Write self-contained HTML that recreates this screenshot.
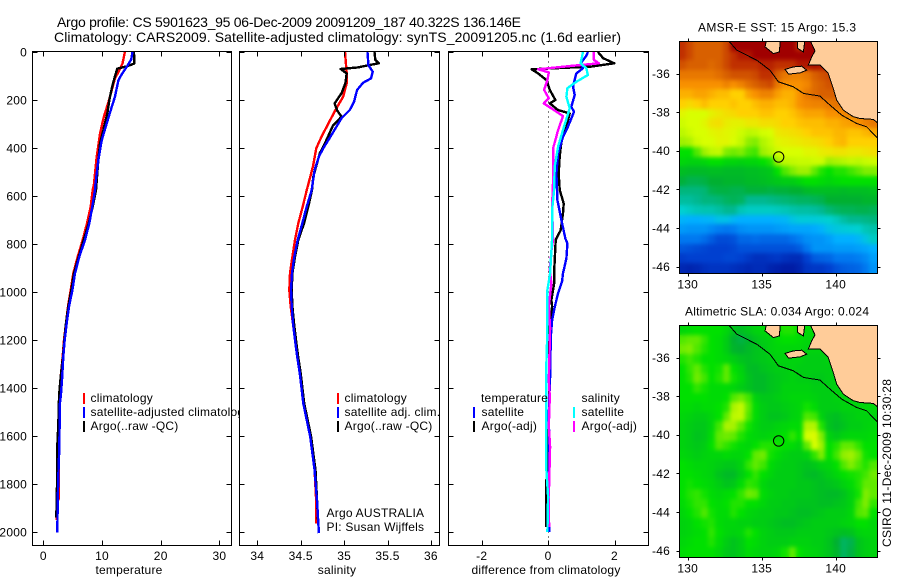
<!DOCTYPE html>
<html>
<head>
<meta charset="utf-8">
<title>Argo profile</title>
<style>
html,body{margin:0;padding:0;background:#fff;width:900px;height:580px;overflow:hidden}
svg{display:block}
text{font-family:"Liberation Sans",Arial,sans-serif;fill:#000;font-size:12px;letter-spacing:.22px}
text[textLength]{letter-spacing:0}
</style>
</head>
<body>
<svg id="fig" width="900" height="580" viewBox="0 0 900 580" xmlns="http://www.w3.org/2000/svg">
<defs>
<clipPath id="map-clip-1"><rect x="679.5" y="41.5" width="198" height="232"/></clipPath>
<clipPath id="map-clip-2"><rect x="679.5" y="325.5" width="198" height="232"/></clipPath>
<filter id="map-smooth" x="-5%" y="-5%" width="110%" height="110%" color-interpolation-filters="sRGB"><feGaussianBlur stdDeviation="2"/></filter>
</defs>
<rect width="900" height="580" fill="#fff"/>
<text x="57" y="27" style="font-size:14px" textLength="464" lengthAdjust="spacing">Argo profile: CS 5901623_95 06-Dec-2009 20091209_187 40.322S 136.146E</text>
<text x="54" y="42" style="font-size:14px" textLength="567" lengthAdjust="spacing">Climatology: CARS2009. Satellite-adjusted climatology: synTS_20091205.nc (1.6d earlier)</text>
<text x="698" y="31.5" textLength="158" lengthAdjust="spacing">AMSR-E SST: 15 Argo: 15.3</text>
<text x="685" y="315.5" textLength="184" lengthAdjust="spacing">Altimetric SLA: 0.034 Argo: 0.024</text>
<text transform="translate(891,547) rotate(-90)" textLength="168" lengthAdjust="spacing">CSIRO 11-Dec-2009 10:30:28</text>
</svg>
<script>
// ---------- profile data (depth in dbar) ----------
const tempClimDepth = [0,48,83,111,160,208,271,340,437,549,575,644,714,783,853,922,992,1061,1130,1200,1269,1353,1464,1600,1770,1860,1880,1950];
const tempClim = [13.9,13.5,12.8,12.2,11.65,11.1,10.3,9.66,9.1,8.63,8.41,8.07,7.44,6.71,5.86,5.11,4.67,4.2,3.87,3.53,3.3,2.96,2.8,2.65,2.6,2.65,2.28,2.28];
const tempSatDepth = [0,30,62,93,118,187,229,298,368,451,549,575,644,714,783,853,922,992,1061,1130,1200,1269,1367,1430,1464,1652,1770,1881,2003];
const tempSat = [15.2,15,14.2,13.35,12.8,12.2,11.65,10.8,9.95,9.37,8.9,8.81,8.35,7.84,7.1,6.14,5.4,4.95,4.38,3.98,3.64,3.41,3.19,3,2.83,2.73,2.56,2.45,2.39];
const tempArgoDepth = [0,48,60,69,111,153,201,257,298,382,451,575,644,714,783,853,922,992,1061,1130,1200,1269,1353,1430,1555,1640,1750,1940];
const tempArgo = [15.45,15.5,14.2,12.6,12.1,11.65,11.25,10.9,10.5,9.66,9.37,8.98,8.41,7.73,6.88,6.03,5.23,4.77,4.26,3.87,3.58,3.36,2.96,2.7,2.56,2.39,2.39,2.22];

const salClimDepth = [0,89,130,186,242,297,353,401,478,575,644,714,783,853,922,992,1061,1130,1200,1269,1339,1464,1603,1742,1881,1965];
const salClim = [35.01,35.03,35.03,34.99,34.9,34.82,34.74,34.68,34.64,34.57,34.523,34.472,34.434,34.404,34.377,34.369,34.385,34.41,34.434,34.46,34.49,34.54,34.61,34.66,34.68,34.68];
const salSatDepth = [0,54,82,110,128,158,207,242,276,346,401,436,492,575,644,714,783,853,922,992,1061,1130,1200,1269,1339,1464,1603,1742,1881,2005];
const salSat = [35.27,35.28,35.33,35.31,35.22,35.15,35.115,35.065,34.97,34.855,34.76,34.71,34.66,34.627,34.569,34.519,34.465,34.426,34.4,34.388,34.396,34.411,34.434,34.46,34.49,34.53,34.61,34.66,34.69,34.71];
const salArgoDepth = [0,33,47,54,64,71,89,130,172,214,244,269,308,380,422,519,575,644,714,783,853,922,992,1061,1130,1200,1269,1339,1464,1603,1742,1881,1960];
const salArgo = [35.35,35.36,35.4,35.295,35.16,34.96,35.03,35.015,34.97,34.89,34.92,34.97,34.87,34.78,34.72,34.645,34.63,34.587,34.538,34.472,34.434,34.404,34.396,34.404,34.423,34.446,34.47,34.5,34.54,34.62,34.67,34.69,34.7];

const diffTempSatDepth = [0,14,47,68,89,144,179,228,249,311,353,422,506,617,700,778,797,860,922,957,1005,1063,1118,1186,1353,1464,1520,1644,1783,2000];
const diffTempSat = [1.2,1.16,0.98,1.05,0.85,0.75,0.8,0.7,0.78,0.6,0.45,0.3,0.25,0.28,0.4,0.52,0.58,0.55,0.45,0.42,0.3,0.2,0.12,0.08,0.06,0.03,0.02,0.04,0.02,0.03];
const diffTempArgoDepth = [0,26,47,61,72,89,117,158,200,214,242,256,311,353,436,506,575,631,672,742,783,867,922,964,1033,1060,1144,1400,1700,1783,1980];
const diffTempArgo = [1.5,1.66,1.99,1.3,-0.5,-0.3,-0.05,0.05,0.22,0.05,0.3,0.65,0.55,0.42,0.35,0.32,0.35,0.47,0.45,0.38,0.23,0.2,0.18,0.18,0.1,0.12,0.04,0.03,0.02,-0.05,-0.05];
const diffSalSatDepth = [0,47,68,96,124,151,186,235,325,394,478,575,658,778,922,992,1158,1297,1742,1853,2000];
const diffSalSat = [1.05,0.98,1.15,1.2,0.85,0.58,0.55,0.65,0.45,0.3,0.2,0.18,0.12,0.12,0.06,-0.02,-0.02,-0.05,-0.05,0,-0.02];
const diffSalArgoDepth = [0,33,47,58,72,85,117,158,193,214,235,267,325,367,401,478,533,644,778,830,908,964,1060,1150,1367,1436,1560,1644,1853,1980];
const diffSalArgo = [1.38,1.38,1.53,0.7,-0.3,0.02,-0.02,-0.12,0.02,-0.13,0.1,0.45,0.3,0.22,0.15,0.15,0.15,0.12,0.15,0.1,0.05,0.1,0.02,0.06,0.02,0.05,0.02,0.06,0.02,0.03];

// ---------- tick labels ----------
const depthTicks = [0,200,400,600,800,1000,1200,1400,1600,1800,2000];
const tempTicks = [0,10,20,30];
const salTicks = [34,34.5,35,35.5,36];
const diffTicks = [-2,0,2];
const lonTicks = [130,135,140];
const latTicks = [-36,-38,-40,-42,-44,-46];

// ---------- map data: colour-scale index, 0.5 degree cells, north to south ----------
const sstGrid = [
[13,12.5,12,12,12,12,12.5,14,14,14,14,14,14,14,14,14,13,14,14,14,14,14,14,14,14,14,14],
[13,12.5,12,12,12,12,12.5,13,13.5,13.5,14,14,14,14,14,14,14,14,14,14,14,14,14,14,14,14,14],
[12.3,12,12,12,11.8,12,12.5,13,13,13,13,13.3,13.3,13,13,13,13.5,13.5,13.7,13.5,13.5,14,14,14,14,14,14],
[11.5,11.5,11.5,11.5,11.5,11.7,12,12.3,12.3,12.3,12.5,13,13,12,11.5,11.3,11.3,11.5,12,12.3,12.5,13,13,13,13,13,13],
[11,11,11,11,11,11,11.3,11,11.3,11.7,12,12.3,12.5,11.5,11,11,11,11.2,11.8,12,12.3,12,12,12,12,12,12],
[10.5,10.5,10.7,10.7,10.5,10.3,10.3,10,10,10.7,11,11.3,11.3,10.8,10.5,10.5,11,11.5,11.8,12,12,12,12,12,12,12,12],
[10,9.8,10,10.3,10,10,10,10.2,10,10,10.3,10.5,10.5,10.3,10.3,10.5,11,11.2,11.3,11.3,11.5,11.6,11.6,11.6,12,12,12],
[9.2,9,9,9,9.3,9.5,9.7,9.8,10,10,10,10.2,10.2,10,10,10.2,10.5,10.7,10.7,10.7,11,11,11.2,11.3,11.5,11.5,11.5],
[8.8,9,9,9.2,9.6,9.7,9.4,9.3,9.3,9.5,9.5,9.7,9.7,9.8,10,10,10.2,10.3,10.3,10.3,10.5,10.5,10.7,10.8,11,11.3,11.5],
[8.5,8.8,9,9,9.2,9.3,9.2,9.1,8.8,8.5,8.6,8.9,9,9.5,9.6,9.7,9.8,10,10.2,10.2,10.2,10.4,10.4,10.2,10.2,10.4,10.6],
[8,8.2,8.8,9,9,9.2,9.2,9,8.6,7.9,7.8,8.3,8.7,9.2,9.3,9.4,9.5,9.6,9.7,9.8,10,10.3,10.4,10,10,10,10],
[7,7,7.5,8,8.5,8.6,7.8,7.7,7.8,7.5,7.4,8,8.4,8.8,9,9,9,9.2,9.2,9.4,9.5,9.6,9.6,9.5,9.5,9.6,9.7],
[6.8,6.7,6.7,6.8,7,7,6.8,6.8,6.7,6.8,6.8,7,7.2,8,8.5,8.6,8.7,8.7,8.8,8.8,8,8.2,8.4,8.6,8.5,8.7,8.8],
[6.3,6.2,6.2,6.2,6.3,6.3,6.2,6.2,6.2,6.3,6.3,6.4,6.5,7,7.5,7.8,8,8,7.6,7.2,7,7.2,7.2,7.4,7.6,7.8,7.8],
[5.9,5.7,5.7,5.8,6,6,6.1,6.1,6.1,6.2,6.2,6.3,6.4,6.5,6.6,6.6,6.8,7,7,6.9,6.8,6.9,7,7,7,7,7],
[5.2,5.2,5.2,5.3,5.7,5.8,5.8,5.7,5.7,5.9,5.9,5.9,5.8,5.9,5.9,6,6,6.2,6.3,6.3,6.3,6.3,6.2,6.3,6.3,6.3,6.4],
[4.8,4.8,5,5.2,5.2,5.3,5.5,5.6,5.5,5,5,5,5.1,5.2,5.3,5.4,5.5,5.5,5.6,5.7,6,6,6,6,6,6.1,6.1],
[4,4.2,4.4,4.5,4.5,4.7,5,5,4.4,4.2,4.2,4.2,4.2,4.3,4.4,4.6,4.7,4.7,4.8,5,5.3,5.5,5.6,5.6,5.7,5.7,5.6],
[3.1,3,3,3.1,3.2,3.5,3.5,3.2,3,3,3,3,3,3.1,3.2,3.6,3.8,3.8,3.8,3.9,4,4.3,4.7,5,5,5.1,5.2],
[2.6,2.5,2.5,2.5,2.3,2.1,2,2.1,2.4,2.5,2.5,2.5,2.5,2.6,2.7,2.8,2.8,2.8,2.9,3.1,3.5,3.7,3.8,3.9,4,4.4,4.6],
[2,2,2,1.8,1.5,1.2,1.2,1.3,1.7,1.7,1.8,1.7,1.7,1.7,1.7,1.9,2.1,2.4,2.5,2.5,2.7,3,3,3,3.2,3.6,4.2],
[1.4,1.3,1.2,1.1,1,1,1,1.1,1.3,1.3,1.3,1.3,1.3,1.3,1.3,1.3,1.5,2,2.5,2.5,2.5,2.6,2.6,2.6,2.7,2.8,3],
[0.9,1,1,1,1,1,1.1,1.1,1,0.8,0.6,0.6,0.7,0.8,0.6,0.5,0.5,1,1.5,1.6,1.7,2,2,2,2.1,2.3,2.7],
[0.4,0.3,0.4,0.6,0.7,0.7,0.7,0.6,0.5,0.4,0.5,0.5,0.3,0.2,0.1,0.1,0.3,0.7,0.8,0.8,1,1.3,1.5,1.6,1.7,2,2.5]
];
const slaGrid = [
[6.8,6.9,7,7,7,7,6.8,6.4,6.3,6.5,6.7,6.8,6.9,7,7.2,7.2,6.9,6.9,6.9,6.9,6.9,6.9,6.9,6.9,6.9,6.9,6.9],
[7.5,7.6,7.6,7.3,7,6.9,6.6,6,5.8,6.1,6.4,6.6,6.7,6.9,7,7,6.9,6.8,6.8,6.8,6.8,6.8,6.8,6.8,6.8,6.8,6.8],
[7.7,7.8,7.5,7.2,7,6.9,6.6,6.1,6,6.2,6.4,6.5,6.7,6.8,6.8,6.8,6.8,6.7,6.7,6.7,6.7,6.7,6.7,6.7,6.7,6.7,6.7],
[7.2,7.4,7.2,7,7,6.9,6.8,6.6,6.4,6.3,6.4,6.5,6.6,6.7,6.7,6.7,6.7,6.6,6.6,6.6,6.7,6.7,6.7,6.7,6.7,6.7,6.7],
[7,7.3,7.6,7.2,7,7.1,7.6,7,6.7,6.3,6.2,6.4,6.5,6.6,6.6,6.7,6.6,6.6,6.6,6.6,6.6,6.7,6.7,6.7,6.7,6.7,6.7],
[7,7.2,7.7,7.4,7,7.2,7.6,7.1,6.8,6.4,6.2,6.2,6.4,6.5,6.6,6.7,6.6,6.6,6.5,6.5,6.6,6.7,6.7,6.7,6.7,6.7,6.7],
[7,7,7.3,7.1,6.9,6.9,6.9,6.8,6.6,6.4,6.2,6.2,6.4,6.5,6.7,6.7,6.7,6.7,6.6,6.6,6.6,6.7,6.7,6.8,6.8,6.8,6.8],
[7,7,7,7,6.9,6.9,7,7.5,7.7,7.4,6.7,6.5,6.5,6.6,6.7,6.8,6.8,6.8,6.7,6.6,6.6,6.7,6.7,6.7,6.8,6.8,6.8],
[6.9,6.9,6.8,6.9,6.9,7,7.2,8.2,8.6,7.6,6.9,6.6,6.5,6.5,6.6,6.7,6.8,7.1,6.9,6.6,6.6,6.6,6.7,6.7,6.7,6.8,6.8],
[6.8,6.7,6.6,6.6,6.8,7,7.6,8.5,8.6,7.5,6.9,6.6,6.4,6.4,6.5,6.7,6.8,7.5,7.4,6.7,6.4,6.3,6.5,6.6,6.7,6.7,6.7],
[6.7,6.6,6.5,6.5,6.8,7.4,8.2,8.1,7.6,7.1,6.8,6.6,6.6,6.7,6.8,6.9,6.9,8.3,8.3,7.2,6.4,6.2,6.4,6.6,6.6,6.7,6.8],
[6.7,6.6,6.4,6.5,6.9,7.6,7.7,7.6,7.2,6.9,6.8,6.7,6.8,6.9,7,7.3,7,8.9,9.1,7.8,6.7,6.5,6.7,6.8,6.8,6.8,6.9],
[6.7,6.6,6.5,6.6,7,7.5,7.3,7.1,6.9,6.8,7,7.2,7.2,7.1,7,6.9,6.7,7.6,9,8,7,7.2,7.6,7.6,7.3,7,7],
[6.8,6.7,6.6,6.7,6.8,6.8,6.9,6.8,6.8,7,7.6,7.7,7.1,6.9,6.7,6.6,6.6,6.7,7.3,7.8,7,7.4,7.9,8,7.7,7.1,7],
[7,6.9,6.8,6.8,6.7,6.6,6.5,6.5,6.7,7.3,7.6,7.4,6.9,6.7,6.6,6.6,6.5,6.4,6.5,6.7,6.8,7,7.5,7.8,7.5,7.2,7.5],
[7,7,6.9,6.8,6.7,6.4,6.2,6.2,6.6,7,7.3,7,6.8,6.6,6.6,6.6,6.5,6.3,6.2,6.4,6.6,6.8,7,7.1,7.2,7.4,7.7],
[7,7.1,7,6.9,6.8,6.6,6.4,6.5,6.9,7.3,7.2,6.8,6.6,6.6,6.6,6.6,6.5,6.5,6.4,6.3,6.4,6.5,6.7,6.9,7.2,7.6,7.6],
[7,7.2,7.3,7.1,6.9,6.8,6.9,7,7.3,7.7,7.6,6.9,6.7,6.6,6.6,6.5,6.5,6.5,6.4,6.3,6.2,6.2,6.4,6.7,7.1,7.8,7.6],
[6.9,7.1,7.3,7.3,7,6.9,7,7.2,7.2,7,7,6.8,6.6,6.6,6.5,6.5,6.4,6.4,6.4,6.3,6.3,6.4,6.5,6.7,7.4,7.8,7.3],
[6.8,7,7.2,7.5,7.1,6.9,6.9,7.2,7,6.8,6.7,6.6,6.6,6.5,6.5,6.4,6.3,6.3,6.4,6.5,6.6,6.6,6.6,6.8,7.5,7.6,7],
[6.7,6.8,7,7.1,7.2,6.9,6.8,6.8,6.7,6.7,6.6,6.6,6.5,6.4,6.3,6.3,6.4,6.5,6.6,6.6,6.6,6.6,6.7,6.8,7,7,6.8],
[6.7,6.8,6.9,7,7.3,7,6.8,6.7,6.8,7.2,7,6.7,6.6,6.5,6.5,6.5,6.6,6.6,6.6,6.6,6.5,6.4,6.3,6.4,6.7,6.8,6.8],
[6.8,6.9,7,7,7.2,6.9,6.6,6.4,6.6,7,6.9,6.7,6.6,6.6,6.6,6.7,6.7,6.7,6.6,6.6,6.4,6,5.5,5.7,6.4,6.6,6.7],
[6.9,7,7,7,7,6.8,6.5,6.4,6.6,6.9,6.8,6.7,6.7,6.8,7.1,7.6,7,6.8,6.7,6.6,6.4,6.1,5.5,5.8,6.4,6.6,6.7]
];

// ---------- geography (lon / lat) ----------
const mainlandLon = [138.22,138.6,138.38,138.15,138.94,139.5,139.84,140.07,140.52,141.19,141.64,142.55,142.82,143.2,143.2];
const mainlandLat = [-34.2,-34.83,-35.14,-35.57,-35.57,-36,-36.78,-37.38,-37.9,-38.24,-38.33,-38.38,-38.55,-38.7,-34.2];
const islandLon = [136.58,137.14,137.7,138.04,137.59,136.81];
const islandLat = [-35.79,-35.66,-35.62,-35.83,-35.97,-36.03];
const yorkeLon = [135.34,135.23,135.79,136.19,136.28];
const yorkeLat = [-34.2,-34.62,-34.97,-34.88,-34.2];
const gulfLon = [137.43,137.93,137.82,137.43];
const gulfLat = [-34.2,-34.2,-34.88,-34.7];
const shelfLon = [132.7,133.31,134.66,135.56,136.13,137.14,137.82,138.94,139.62,140.41,141.42,142.09,142.9];
const shelfLat = [-34.25,-34.79,-35.31,-35.83,-36.43,-36.69,-37.03,-37.17,-37.64,-38.16,-38.59,-38.76,-39.4];
const floatLon = [136.146];
const floatLat = [-40.322];

// ---------- colour scale ----------
const scaleColors = ['#0018a0','#0040d0','#0078f0','#00b0ff','#00d0d0','#00b890','#00b030','#00e000','#a0f000','#d8ff00','#ffd000','#f89000','#d86000','#c03000','#a00000'];

const svg = document.getElementById('fig');
const NS = 'http://www.w3.org/2000/svg';

function make(tag, name, parent) {
  const el = document.createElementNS(NS, tag);
  
  
  parent.appendChild(el);
  return el;
}
function set(el, attrs) {
  for (const k in attrs) el.setAttribute(k, attrs[k]);
  return el;
}
function line(name, parent, x1, y1, x2, y2) {
  return set(make('line', name, parent), {x1, y1, x2, y2, stroke: '#000', 'stroke-width': 1, 'shape-rendering': 'crispEdges'});
}
function label(name, parent, x, y, str, anchor) {
  const t = set(make('text', name, parent), {x, y, 'text-anchor': anchor || 'start'});
  t.textContent = str;
  return t;
}

// ---------- profile panels ----------
const panelTop = 51.5, panelBottom = 545.5;
function depthY(d) { return 52 + d * 0.24; }

function drawPanel(cfg) {
  const g = make('g', cfg.name + '-panel', svg);
  set(make('rect', cfg.name + '-plot-area', g), {x: cfg.left, y: panelTop, width: cfg.right - cfg.left, height: panelBottom - panelTop, fill: '#fff'});
  if (cfg.zeroLine) {
    const zx = Math.round(cfg.x(0)) + 0.5;
    set(make('line', cfg.name + '-zero-line', g), {x1: zx, y1: panelTop, x2: zx, y2: panelBottom, stroke: '#000', 'stroke-width': 1, 'stroke-dasharray': '1 4', 'shape-rendering': 'crispEdges'});
  }
  cfg.series.forEach(function (s) {
    const pts = s.values.map(function (v, i) { return cfg.x(v).toFixed(1) + ',' + depthY(s.depth[i]).toFixed(1); }).join(' ');
    set(make('polyline', s.name, g), {points: pts, fill: 'none', stroke: s.color, 'stroke-width': 2.4, 'stroke-linejoin': 'round', 'shape-rendering': 'crispEdges'});
  });
  set(make('rect', cfg.name + '-frame', g), {x: cfg.left, y: panelTop, width: cfg.right - cfg.left, height: panelBottom - panelTop, fill: 'none', stroke: '#000', 'stroke-width': 1, 'shape-rendering': 'crispEdges'});
  cfg.ticks.forEach(function (v) {
    const x = Math.round(cfg.x(v)) + 0.5;
    line(cfg.name + '-tick-top', g, x, panelTop, x, panelTop + 5);
    line(cfg.name + '-tick-bottom', g, x, panelBottom, x, panelBottom - 5);
    label(cfg.name + '-tick-label', g, cfg.x(v), 560, String(v), 'middle');
  });
  depthTicks.forEach(function (d) {
    const y = Math.round(depthY(d)) + 0.5;
    line(cfg.name + '-depth-tick-left', g, cfg.left, y, cfg.left + 5, y);
    line(cfg.name + '-depth-tick-right', g, cfg.right, y, cfg.right - 5, y);
    if (cfg.depthLabels) label('depth-tick-label', g, 27, depthY(d) + 4.5, String(d), 'end');
  });
  label(cfg.name + '-axis-title', g, cfg.titleX, 574, cfg.title, 'middle');
  cfg.legend.forEach(function (e) {
    if (e.color) {
      set(make('rect', e.name + '-swatch', g), {x: e.barX, y: e.y - 9, width: 2, height: 11, fill: e.color, 'shape-rendering': 'crispEdges'});
    }
    label(e.name, g, e.textX, e.y, e.text);
  });
  return g;
}

drawPanel({
  name: 'temperature', left: 32.5, right: 231.5, titleX: 129, title: 'temperature', depthLabels: true,
  x: function (v) { return 43.3 + v * 5.87; },
  ticks: tempTicks,
  series: [
    {name: 'temperature-climatology-line', color: '#ff0000', depth: tempClimDepth, values: tempClim},
    {name: 'temperature-argo-line', color: '#000000', depth: tempArgoDepth, values: tempArgo},
    {name: 'temperature-satellite-line', color: '#0000ff', depth: tempSatDepth, values: tempSat}
  ],
  legend: [
    {name: 'legend-climatology', color: '#ff0000', barX: 83, textX: 90.5, y: 402, text: 'climatology'},
    {name: 'legend-satellite-adjusted', color: '#0000ff', barX: 83, textX: 90.5, y: 416, text: 'satellite-adjusted climatology'},
    {name: 'legend-argo', color: '#000000', barX: 83, textX: 90.5, y: 430, text: 'Argo(..raw -QC)'}
  ]
});

const salPanel = drawPanel({
  name: 'salinity', left: 239.5, right: 439.5, titleX: 337, title: 'salinity',
  x: function (v) { return 257.3 + (v - 34) * 86.8; },
  ticks: salTicks,
  series: [
    {name: 'salinity-climatology-line', color: '#ff0000', depth: salClimDepth, values: salClim},
    {name: 'salinity-argo-line', color: '#000000', depth: salArgoDepth, values: salArgo},
    {name: 'salinity-satellite-line', color: '#0000ff', depth: salSatDepth, values: salSat}
  ],
  legend: [
    {name: 'legend-climatology', color: '#ff0000', barX: 337, textX: 344.5, y: 402, text: 'climatology'},
    {name: 'legend-satellite-adj', color: '#0000ff', barX: 337, textX: 344.5, y: 416, text: 'satellite adj. clim.'},
    {name: 'legend-argo', color: '#000000', barX: 337, textX: 344.5, y: 430, text: 'Argo(..raw -QC)'}
  ]
});
label('argo-australia-label', salPanel, 326.5, 517, 'Argo AUSTRALIA');
label('pi-name-label', salPanel, 326.5, 531, 'PI: Susan Wijffels');

drawPanel({
  name: 'difference', left: 448.5, right: 648.5, titleX: 546, title: 'difference from climatology', zeroLine: true,
  x: function (v) { return 548.1 + v * 33.2; },
  ticks: diffTicks,
  series: [
    {name: 'difference-temperature-argo-line', color: '#000000', depth: diffTempArgoDepth, values: diffTempArgo},
    {name: 'difference-temperature-satellite-line', color: '#0000ff', depth: diffTempSatDepth, values: diffTempSat},
    {name: 'difference-salinity-argo-line', color: '#ff00ff', depth: diffSalArgoDepth, values: diffSalArgo},
    {name: 'difference-salinity-satellite-line', color: '#00ffff', depth: diffSalSatDepth, values: diffSalSat}
  ],
  legend: [
    {name: 'legend-temperature-heading', textX: 481, y: 402, text: 'temperature'},
    {name: 'legend-temperature-satellite', color: '#0000ff', barX: 473, textX: 481.5, y: 416, text: 'satellite'},
    {name: 'legend-temperature-argo', color: '#000000', barX: 473, textX: 481.5, y: 430, text: 'Argo(-adj)'},
    {name: 'legend-salinity-heading', textX: 581.5, y: 402, text: 'salinity'},
    {name: 'legend-salinity-satellite', color: '#00ffff', barX: 573, textX: 581.5, y: 416, text: 'satellite'},
    {name: 'legend-salinity-argo', color: '#ff00ff', barX: 573, textX: 581.5, y: 430, text: 'Argo(-adj)'}
  ]
});

// ---------- maps ----------
function scaleColor(v) {
  const c = Math.max(0, Math.min(scaleColors.length - 1, v));
  const i = Math.min(scaleColors.length - 2, Math.floor(c));
  const f = c - i;
  const a = parseInt(scaleColors[i].slice(1), 16), b = parseInt(scaleColors[i + 1].slice(1), 16);
  const mix = function (sh) { return Math.round(((a >> sh) & 255) * (1 - f) + ((b >> sh) & 255) * f); };
  return 'rgb(' + mix(16) + ',' + mix(8) + ',' + mix(0) + ')';
}
const lonStart = 129.43, lonStep = 0.4956, latStart = -34.34, latStep = 0.5;
function lonX(lon) { return 687.7 + (lon - 130) * 14.8; }

function drawMap(cfg) {
  const latY = function (lat) { return cfg.y36 + (-36 - lat) * 19.3; };
  const poly = function (lons, lats) { return lons.map(function (v, i) { return lonX(v).toFixed(1) + ',' + latY(lats[i]).toFixed(1); }).join(' '); };
  const g = make('g', cfg.name + '-map', svg);
  const clip = make('g', cfg.name + '-map-content', g);
  clip.setAttribute('clip-path', 'url(#' + cfg.clip + ')');
  const cells = make('g', cfg.name + '-cells', clip);
  cells.setAttribute('id', cfg.name + '-cells');
  cfg.grid.forEach(function (row, r) {
    row.forEach(function (v, c) {
      const x0 = lonX(lonStart + c * lonStep), x1 = lonX(lonStart + (c + 1) * lonStep);
      const y0 = latY(latStart - r * latStep), y1 = latY(latStart - (r + 1) * latStep);
      set(make('rect', cfg.name + '-cell', cells), {x: Math.floor(x0), y: Math.floor(y0), width: Math.ceil(x1) - Math.floor(x0), height: Math.ceil(y1) - Math.floor(y0), fill: scaleColor(v), 'shape-rendering': 'crispEdges'});
    });
  });
  set(make('use', cfg.name + '-cells-smoothed', clip), {href: '#' + cfg.name + '-cells', filter: 'url(#map-smooth)'});
  [[mainlandLon, mainlandLat, 'mainland'], [islandLon, islandLat, 'kangaroo-island'], [yorkeLon, yorkeLat, 'yorke-peninsula'], [gulfLon, gulfLat, 'gulf-land']].forEach(function (p) {
    set(make('polygon', cfg.name + '-' + p[2], clip), {points: poly(p[0], p[1]), fill: '#ffcc99', stroke: '#000', 'stroke-width': 1, 'shape-rendering': 'crispEdges'});
  });
  set(make('polyline', cfg.name + '-shelf-contour', clip), {points: poly(shelfLon, shelfLat), fill: 'none', stroke: '#000', 'stroke-width': 1, 'shape-rendering': 'crispEdges'});
  set(make('circle', cfg.name + '-float-position', clip), {cx: lonX(floatLon[0]), cy: latY(floatLat[0]), r: 5.2, fill: 'none', stroke: '#000', 'stroke-width': 1});
  const top = cfg.y36 - 32, bottom = cfg.y36 + 200;
  set(make('rect', cfg.name + '-frame', g), {x: 679.5, y: top, width: 198, height: 232, fill: 'none', stroke: '#000', 'stroke-width': 1, 'shape-rendering': 'crispEdges'});
  lonTicks.forEach(function (lon) {
    const x = Math.round(lonX(lon)) + 0.5;
    line(cfg.name + '-lon-tick-top', g, x, top, x, top - 3);
    line(cfg.name + '-lon-tick-bottom', g, x, bottom, x, bottom + 3);
    label(cfg.name + '-lon-label', g, lonX(lon), bottom + 15, String(lon), 'middle');
  });
  latTicks.forEach(function (lat) {
    const y = Math.round(latY(lat)) + 0.5;
    line(cfg.name + '-lat-tick-left', g, 679.5, y, 676.5, y);
    line(cfg.name + '-lat-tick-right', g, 877.5, y, 880.5, y);
    label(cfg.name + '-lat-label', g, 670, latY(lat) + 4.5, String(lat), 'end');
  });
}
drawMap({name: 'sst', grid: sstGrid, y36: 73.5, clip: 'map-clip-1'});
drawMap({name: 'sla', grid: slaGrid, y36: 357.5, clip: 'map-clip-2'});
</script>
</body>
</html>
